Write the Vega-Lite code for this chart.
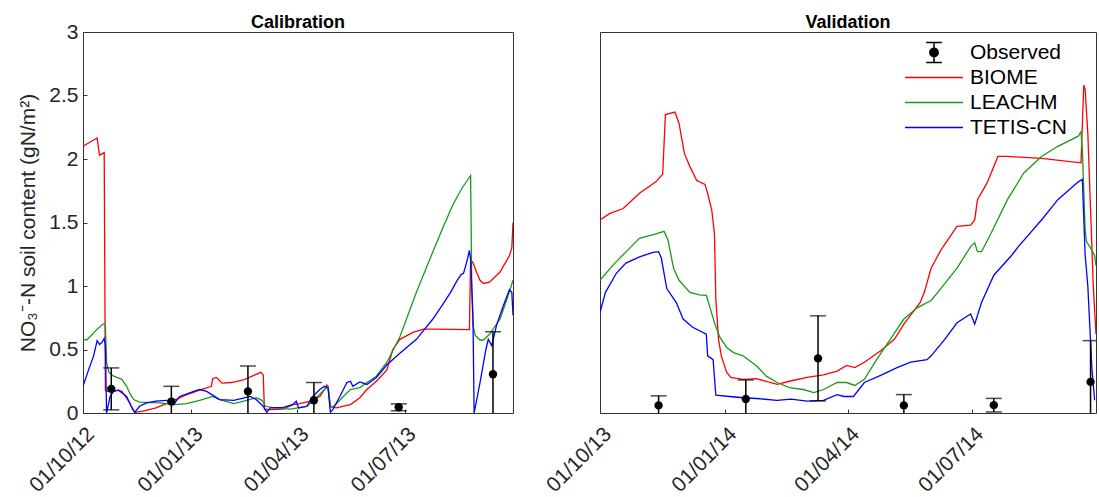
{
  "$schema": "https://vega.github.io/schema/vega-lite/v6.json",
  "background": "white",
  "padding": {"left": 17, "top": 13, "right": 0, "bottom": 0},
  "config": {
    "font": "Liberation Sans",
    "view": {"stroke": "#333333", "strokeWidth": 1},
    "axis": {"grid": false, "domain": false, "labelFont": "Liberation Sans", "labelFontSize": 21, "labelColor": "#262626", "tickColor": "#333333", "tickSize": -4, "titleFont": "Liberation Sans", "titleFontSize": 21, "titleFontWeight": "normal", "titleColor": "#262626"},
    "title": {"font": "Liberation Sans", "fontSize": 18, "fontWeight": "bold", "color": "#000000", "baseline": "alphabetic", "anchor": "middle", "frame": "group"}
  },
  "datasets": {
    "calLines": [
      {"series": "BIOME", "date": "2012-10-01", "value": 2.10},
      {"series": "BIOME", "date": "2012-10-13", "value": 2.165},
      {"series": "BIOME", "date": "2012-10-15", "value": 2.03},
      {"series": "BIOME", "date": "2012-10-19", "value": 2.05},
      {"series": "BIOME", "date": "2012-10-20", "value": 0.18},
      {"series": "BIOME", "date": "2012-10-21", "value": 0.17},
      {"series": "BIOME", "date": "2012-10-26", "value": 0.17},
      {"series": "BIOME", "date": "2012-10-31", "value": 0.18},
      {"series": "BIOME", "date": "2012-11-03", "value": 0.17},
      {"series": "BIOME", "date": "2012-11-06", "value": 0.13},
      {"series": "BIOME", "date": "2012-11-09", "value": 0.09},
      {"series": "BIOME", "date": "2012-11-12", "value": 0.03},
      {"series": "BIOME", "date": "2012-11-14", "value": 0.005},
      {"series": "BIOME", "date": "2012-11-20", "value": 0.013},
      {"series": "BIOME", "date": "2012-12-02", "value": 0.04},
      {"series": "BIOME", "date": "2012-12-15", "value": 0.09},
      {"series": "BIOME", "date": "2012-12-27", "value": 0.14},
      {"series": "BIOME", "date": "2013-01-08", "value": 0.18},
      {"series": "BIOME", "date": "2013-01-18", "value": 0.21},
      {"series": "BIOME", "date": "2013-01-19", "value": 0.27},
      {"series": "BIOME", "date": "2013-01-22", "value": 0.28},
      {"series": "BIOME", "date": "2013-01-24", "value": 0.265},
      {"series": "BIOME", "date": "2013-01-27", "value": 0.235},
      {"series": "BIOME", "date": "2013-02-04", "value": 0.24},
      {"series": "BIOME", "date": "2013-02-14", "value": 0.26},
      {"series": "BIOME", "date": "2013-02-24", "value": 0.30},
      {"series": "BIOME", "date": "2013-03-01", "value": 0.32},
      {"series": "BIOME", "date": "2013-03-03", "value": 0.30},
      {"series": "BIOME", "date": "2013-03-04", "value": 0.03},
      {"series": "BIOME", "date": "2013-03-09", "value": 0.026},
      {"series": "BIOME", "date": "2013-03-20", "value": 0.03},
      {"series": "BIOME", "date": "2013-03-28", "value": 0.066},
      {"series": "BIOME", "date": "2013-04-03", "value": 0.074},
      {"series": "BIOME", "date": "2013-04-12", "value": 0.093},
      {"series": "BIOME", "date": "2013-04-20", "value": 0.13},
      {"series": "BIOME", "date": "2013-04-24", "value": 0.185},
      {"series": "BIOME", "date": "2013-04-26", "value": 0.22},
      {"series": "BIOME", "date": "2013-04-27", "value": 0.20},
      {"series": "BIOME", "date": "2013-04-29", "value": 0.05},
      {"series": "BIOME", "date": "2013-05-04", "value": 0.04},
      {"series": "BIOME", "date": "2013-05-16", "value": 0.066},
      {"series": "BIOME", "date": "2013-05-24", "value": 0.12},
      {"series": "BIOME", "date": "2013-05-30", "value": 0.185},
      {"series": "BIOME", "date": "2013-06-07", "value": 0.25},
      {"series": "BIOME", "date": "2013-06-16", "value": 0.34},
      {"series": "BIOME", "date": "2013-06-21", "value": 0.50},
      {"series": "BIOME", "date": "2013-06-27", "value": 0.58},
      {"series": "BIOME", "date": "2013-07-08", "value": 0.635},
      {"series": "BIOME", "date": "2013-07-17", "value": 0.66},
      {"series": "BIOME", "date": "2013-07-25", "value": 0.66},
      {"series": "BIOME", "date": "2013-08-25", "value": 0.656},
      {"series": "BIOME", "date": "2013-08-26", "value": 1.20},
      {"series": "BIOME", "date": "2013-08-28", "value": 1.185},
      {"series": "BIOME", "date": "2013-08-31", "value": 1.11},
      {"series": "BIOME", "date": "2013-09-03", "value": 1.045},
      {"series": "BIOME", "date": "2013-09-06", "value": 1.02},
      {"series": "BIOME", "date": "2013-09-11", "value": 1.03},
      {"series": "BIOME", "date": "2013-09-20", "value": 1.11},
      {"series": "BIOME", "date": "2013-09-28", "value": 1.24},
      {"series": "BIOME", "date": "2013-09-30", "value": 1.30},
      {"series": "BIOME", "date": "2013-10-01", "value": 1.50},
      {"series": "LEACHM", "date": "2012-10-01", "value": 0.58},
      {"series": "LEACHM", "date": "2012-10-04", "value": 0.575},
      {"series": "LEACHM", "date": "2012-10-08", "value": 0.61},
      {"series": "LEACHM", "date": "2012-10-13", "value": 0.66},
      {"series": "LEACHM", "date": "2012-10-18", "value": 0.70},
      {"series": "LEACHM", "date": "2012-10-19", "value": 0.70},
      {"series": "LEACHM", "date": "2012-10-20", "value": 0.69},
      {"series": "LEACHM", "date": "2012-10-21", "value": 0.40},
      {"series": "LEACHM", "date": "2012-10-23", "value": 0.32},
      {"series": "LEACHM", "date": "2012-10-27", "value": 0.29},
      {"series": "LEACHM", "date": "2012-11-03", "value": 0.265},
      {"series": "LEACHM", "date": "2012-11-07", "value": 0.21},
      {"series": "LEACHM", "date": "2012-11-10", "value": 0.15},
      {"series": "LEACHM", "date": "2012-11-13", "value": 0.106},
      {"series": "LEACHM", "date": "2012-11-18", "value": 0.085},
      {"series": "LEACHM", "date": "2012-12-05", "value": 0.08},
      {"series": "LEACHM", "date": "2012-12-17", "value": 0.066},
      {"series": "LEACHM", "date": "2012-12-28", "value": 0.074},
      {"series": "LEACHM", "date": "2013-01-08", "value": 0.10},
      {"series": "LEACHM", "date": "2013-01-19", "value": 0.13},
      {"series": "LEACHM", "date": "2013-01-25", "value": 0.106},
      {"series": "LEACHM", "date": "2013-02-06", "value": 0.074},
      {"series": "LEACHM", "date": "2013-02-17", "value": 0.10},
      {"series": "LEACHM", "date": "2013-02-25", "value": 0.12},
      {"series": "LEACHM", "date": "2013-03-02", "value": 0.10},
      {"series": "LEACHM", "date": "2013-03-05", "value": 0.053},
      {"series": "LEACHM", "date": "2013-03-12", "value": 0.04},
      {"series": "LEACHM", "date": "2013-03-26", "value": 0.03},
      {"series": "LEACHM", "date": "2013-04-09", "value": 0.053},
      {"series": "LEACHM", "date": "2013-04-17", "value": 0.12},
      {"series": "LEACHM", "date": "2013-04-24", "value": 0.185},
      {"series": "LEACHM", "date": "2013-04-27", "value": 0.21},
      {"series": "LEACHM", "date": "2013-04-29", "value": 0.05},
      {"series": "LEACHM", "date": "2013-05-02", "value": 0.053},
      {"series": "LEACHM", "date": "2013-05-10", "value": 0.13},
      {"series": "LEACHM", "date": "2013-05-16", "value": 0.185},
      {"series": "LEACHM", "date": "2013-05-24", "value": 0.20},
      {"series": "LEACHM", "date": "2013-05-30", "value": 0.24},
      {"series": "LEACHM", "date": "2013-06-07", "value": 0.29},
      {"series": "LEACHM", "date": "2013-06-16", "value": 0.40},
      {"series": "LEACHM", "date": "2013-06-27", "value": 0.60},
      {"series": "LEACHM", "date": "2013-07-11", "value": 0.95},
      {"series": "LEACHM", "date": "2013-07-25", "value": 1.27},
      {"series": "LEACHM", "date": "2013-08-03", "value": 1.47},
      {"series": "LEACHM", "date": "2013-08-11", "value": 1.64},
      {"series": "LEACHM", "date": "2013-08-18", "value": 1.76},
      {"series": "LEACHM", "date": "2013-08-26", "value": 1.87},
      {"series": "LEACHM", "date": "2013-08-27", "value": 1.00},
      {"series": "LEACHM", "date": "2013-08-28", "value": 0.69},
      {"series": "LEACHM", "date": "2013-08-30", "value": 0.61},
      {"series": "LEACHM", "date": "2013-09-03", "value": 0.575},
      {"series": "LEACHM", "date": "2013-09-06", "value": 0.575},
      {"series": "LEACHM", "date": "2013-09-11", "value": 0.62},
      {"series": "LEACHM", "date": "2013-09-20", "value": 0.74},
      {"series": "LEACHM", "date": "2013-09-26", "value": 0.90},
      {"series": "LEACHM", "date": "2013-10-01", "value": 1.045},
      {"series": "TETIS-CN", "date": "2012-10-01", "value": 0.21},
      {"series": "TETIS-CN", "date": "2012-10-05", "value": 0.32},
      {"series": "TETIS-CN", "date": "2012-10-10", "value": 0.45},
      {"series": "TETIS-CN", "date": "2012-10-13", "value": 0.57},
      {"series": "TETIS-CN", "date": "2012-10-15", "value": 0.54},
      {"series": "TETIS-CN", "date": "2012-10-17", "value": 0.555},
      {"series": "TETIS-CN", "date": "2012-10-19", "value": 0.587},
      {"series": "TETIS-CN", "date": "2012-10-20", "value": 0.53},
      {"series": "TETIS-CN", "date": "2012-10-21", "value": 0.0},
      {"series": "TETIS-CN", "date": "2012-10-24", "value": 0.13},
      {"series": "TETIS-CN", "date": "2012-10-27", "value": 0.17},
      {"series": "TETIS-CN", "date": "2012-10-31", "value": 0.18},
      {"series": "TETIS-CN", "date": "2012-11-03", "value": 0.16},
      {"series": "TETIS-CN", "date": "2012-11-07", "value": 0.13},
      {"series": "TETIS-CN", "date": "2012-11-11", "value": 0.053},
      {"series": "TETIS-CN", "date": "2012-11-14", "value": 0.005},
      {"series": "TETIS-CN", "date": "2012-11-18", "value": 0.053},
      {"series": "TETIS-CN", "date": "2012-11-24", "value": 0.08},
      {"series": "TETIS-CN", "date": "2012-12-02", "value": 0.093},
      {"series": "TETIS-CN", "date": "2012-12-11", "value": 0.10},
      {"series": "TETIS-CN", "date": "2012-12-17", "value": 0.066},
      {"series": "TETIS-CN", "date": "2012-12-22", "value": 0.13},
      {"series": "TETIS-CN", "date": "2013-01-03", "value": 0.17},
      {"series": "TETIS-CN", "date": "2013-01-08", "value": 0.185},
      {"series": "TETIS-CN", "date": "2013-01-14", "value": 0.17},
      {"series": "TETIS-CN", "date": "2013-01-25", "value": 0.106},
      {"series": "TETIS-CN", "date": "2013-02-06", "value": 0.10},
      {"series": "TETIS-CN", "date": "2013-02-20", "value": 0.13},
      {"series": "TETIS-CN", "date": "2013-02-25", "value": 0.106},
      {"series": "TETIS-CN", "date": "2013-03-03", "value": 0.053},
      {"series": "TETIS-CN", "date": "2013-03-06", "value": 0.005},
      {"series": "TETIS-CN", "date": "2013-03-09", "value": 0.04},
      {"series": "TETIS-CN", "date": "2013-03-20", "value": 0.045},
      {"series": "TETIS-CN", "date": "2013-03-28", "value": 0.066},
      {"series": "TETIS-CN", "date": "2013-03-31", "value": 0.093},
      {"series": "TETIS-CN", "date": "2013-04-02", "value": 0.04},
      {"series": "TETIS-CN", "date": "2013-04-09", "value": 0.053},
      {"series": "TETIS-CN", "date": "2013-04-14", "value": 0.13},
      {"series": "TETIS-CN", "date": "2013-04-20", "value": 0.185},
      {"series": "TETIS-CN", "date": "2013-04-24", "value": 0.21},
      {"series": "TETIS-CN", "date": "2013-04-27", "value": 0.20},
      {"series": "TETIS-CN", "date": "2013-04-29", "value": 0.005},
      {"series": "TETIS-CN", "date": "2013-05-01", "value": 0.026},
      {"series": "TETIS-CN", "date": "2013-05-07", "value": 0.13},
      {"series": "TETIS-CN", "date": "2013-05-13", "value": 0.24},
      {"series": "TETIS-CN", "date": "2013-05-16", "value": 0.25},
      {"series": "TETIS-CN", "date": "2013-05-18", "value": 0.21},
      {"series": "TETIS-CN", "date": "2013-05-24", "value": 0.245},
      {"series": "TETIS-CN", "date": "2013-05-30", "value": 0.225},
      {"series": "TETIS-CN", "date": "2013-06-07", "value": 0.28},
      {"series": "TETIS-CN", "date": "2013-06-16", "value": 0.38},
      {"series": "TETIS-CN", "date": "2013-06-27", "value": 0.47},
      {"series": "TETIS-CN", "date": "2013-07-11", "value": 0.58},
      {"series": "TETIS-CN", "date": "2013-07-18", "value": 0.66},
      {"series": "TETIS-CN", "date": "2013-07-25", "value": 0.74},
      {"series": "TETIS-CN", "date": "2013-08-02", "value": 0.85},
      {"series": "TETIS-CN", "date": "2013-08-09", "value": 0.95},
      {"series": "TETIS-CN", "date": "2013-08-15", "value": 1.05},
      {"series": "TETIS-CN", "date": "2013-08-18", "value": 1.09},
      {"series": "TETIS-CN", "date": "2013-08-20", "value": 1.10},
      {"series": "TETIS-CN", "date": "2013-08-23", "value": 1.20},
      {"series": "TETIS-CN", "date": "2013-08-25", "value": 1.28},
      {"series": "TETIS-CN", "date": "2013-08-26", "value": 1.21},
      {"series": "TETIS-CN", "date": "2013-08-28", "value": 0.77},
      {"series": "TETIS-CN", "date": "2013-08-29", "value": 0.0},
      {"series": "TETIS-CN", "date": "2013-09-03", "value": 0.24},
      {"series": "TETIS-CN", "date": "2013-09-08", "value": 0.50},
      {"series": "TETIS-CN", "date": "2013-09-10", "value": 0.58},
      {"series": "TETIS-CN", "date": "2013-09-13", "value": 0.53},
      {"series": "TETIS-CN", "date": "2013-09-17", "value": 0.69},
      {"series": "TETIS-CN", "date": "2013-09-23", "value": 0.85},
      {"series": "TETIS-CN", "date": "2013-09-28", "value": 0.97},
      {"series": "TETIS-CN", "date": "2013-09-30", "value": 0.95},
      {"series": "TETIS-CN", "date": "2013-10-01", "value": 0.77}
    ],
    "valLines": [
      {"series": "BIOME", "date": "2013-10-01", "value": 1.52},
      {"series": "BIOME", "date": "2013-10-08", "value": 1.57},
      {"series": "BIOME", "date": "2013-10-18", "value": 1.61},
      {"series": "BIOME", "date": "2013-10-30", "value": 1.73},
      {"series": "BIOME", "date": "2013-11-11", "value": 1.82},
      {"series": "BIOME", "date": "2013-11-16", "value": 1.88},
      {"series": "BIOME", "date": "2013-11-18", "value": 2.35},
      {"series": "BIOME", "date": "2013-11-25", "value": 2.37},
      {"series": "BIOME", "date": "2013-11-28", "value": 2.28},
      {"series": "BIOME", "date": "2013-12-02", "value": 2.04},
      {"series": "BIOME", "date": "2013-12-06", "value": 1.94},
      {"series": "BIOME", "date": "2013-12-11", "value": 1.83},
      {"series": "BIOME", "date": "2013-12-17", "value": 1.80},
      {"series": "BIOME", "date": "2013-12-19", "value": 1.73},
      {"series": "BIOME", "date": "2013-12-22", "value": 1.60},
      {"series": "BIOME", "date": "2013-12-24", "value": 1.41},
      {"series": "BIOME", "date": "2013-12-25", "value": 0.90},
      {"series": "BIOME", "date": "2013-12-27", "value": 0.58},
      {"series": "BIOME", "date": "2013-12-29", "value": 0.45},
      {"series": "BIOME", "date": "2014-01-02", "value": 0.32},
      {"series": "BIOME", "date": "2014-01-05", "value": 0.28},
      {"series": "BIOME", "date": "2014-01-14", "value": 0.265},
      {"series": "BIOME", "date": "2014-01-24", "value": 0.27},
      {"series": "BIOME", "date": "2014-02-08", "value": 0.225},
      {"series": "BIOME", "date": "2014-02-17", "value": 0.25},
      {"series": "BIOME", "date": "2014-03-02", "value": 0.28},
      {"series": "BIOME", "date": "2014-03-14", "value": 0.30},
      {"series": "BIOME", "date": "2014-03-24", "value": 0.33},
      {"series": "BIOME", "date": "2014-03-31", "value": 0.375},
      {"series": "BIOME", "date": "2014-04-06", "value": 0.357},
      {"series": "BIOME", "date": "2014-04-13", "value": 0.40},
      {"series": "BIOME", "date": "2014-04-25", "value": 0.49},
      {"series": "BIOME", "date": "2014-05-05", "value": 0.58},
      {"series": "BIOME", "date": "2014-05-12", "value": 0.70},
      {"series": "BIOME", "date": "2014-05-17", "value": 0.77},
      {"series": "BIOME", "date": "2014-05-24", "value": 0.87},
      {"series": "BIOME", "date": "2014-05-27", "value": 0.95},
      {"series": "BIOME", "date": "2014-06-01", "value": 1.14},
      {"series": "BIOME", "date": "2014-06-08", "value": 1.28},
      {"series": "BIOME", "date": "2014-06-20", "value": 1.47},
      {"series": "BIOME", "date": "2014-06-30", "value": 1.48},
      {"series": "BIOME", "date": "2014-07-03", "value": 1.52},
      {"series": "BIOME", "date": "2014-07-05", "value": 1.68},
      {"series": "BIOME", "date": "2014-07-12", "value": 1.81},
      {"series": "BIOME", "date": "2014-07-20", "value": 2.02},
      {"series": "BIOME", "date": "2014-07-27", "value": 2.02},
      {"series": "BIOME", "date": "2014-08-21", "value": 2.005},
      {"series": "BIOME", "date": "2014-09-19", "value": 1.97},
      {"series": "BIOME", "date": "2014-09-21", "value": 2.58},
      {"series": "BIOME", "date": "2014-09-22", "value": 2.55},
      {"series": "BIOME", "date": "2014-09-24", "value": 2.20},
      {"series": "BIOME", "date": "2014-09-26", "value": 1.60},
      {"series": "BIOME", "date": "2014-09-28", "value": 1.00},
      {"series": "BIOME", "date": "2014-09-30", "value": 0.62},
      {"series": "LEACHM", "date": "2013-10-01", "value": 1.045},
      {"series": "LEACHM", "date": "2013-10-11", "value": 1.17},
      {"series": "LEACHM", "date": "2013-10-23", "value": 1.30},
      {"series": "LEACHM", "date": "2013-10-30", "value": 1.375},
      {"series": "LEACHM", "date": "2013-11-11", "value": 1.41},
      {"series": "LEACHM", "date": "2013-11-17", "value": 1.43},
      {"series": "LEACHM", "date": "2013-11-20", "value": 1.36},
      {"series": "LEACHM", "date": "2013-11-21", "value": 1.30},
      {"series": "LEACHM", "date": "2013-11-24", "value": 1.14},
      {"series": "LEACHM", "date": "2013-11-28", "value": 1.045},
      {"series": "LEACHM", "date": "2013-12-06", "value": 0.95},
      {"series": "LEACHM", "date": "2013-12-13", "value": 0.93},
      {"series": "LEACHM", "date": "2013-12-18", "value": 0.926},
      {"series": "LEACHM", "date": "2013-12-21", "value": 0.82},
      {"series": "LEACHM", "date": "2013-12-24", "value": 0.71},
      {"series": "LEACHM", "date": "2013-12-28", "value": 0.595},
      {"series": "LEACHM", "date": "2014-01-02", "value": 0.516},
      {"series": "LEACHM", "date": "2014-01-07", "value": 0.476},
      {"series": "LEACHM", "date": "2014-01-14", "value": 0.45},
      {"series": "LEACHM", "date": "2014-01-24", "value": 0.37},
      {"series": "LEACHM", "date": "2014-01-31", "value": 0.29},
      {"series": "LEACHM", "date": "2014-02-08", "value": 0.24},
      {"series": "LEACHM", "date": "2014-02-17", "value": 0.20},
      {"series": "LEACHM", "date": "2014-02-27", "value": 0.185},
      {"series": "LEACHM", "date": "2014-03-07", "value": 0.16},
      {"series": "LEACHM", "date": "2014-03-14", "value": 0.185},
      {"series": "LEACHM", "date": "2014-03-24", "value": 0.24},
      {"series": "LEACHM", "date": "2014-03-31", "value": 0.24},
      {"series": "LEACHM", "date": "2014-04-06", "value": 0.217},
      {"series": "LEACHM", "date": "2014-04-13", "value": 0.265},
      {"series": "LEACHM", "date": "2014-04-22", "value": 0.42},
      {"series": "LEACHM", "date": "2014-05-02", "value": 0.58},
      {"series": "LEACHM", "date": "2014-05-12", "value": 0.74},
      {"series": "LEACHM", "date": "2014-05-22", "value": 0.83},
      {"series": "LEACHM", "date": "2014-06-01", "value": 0.886},
      {"series": "LEACHM", "date": "2014-06-10", "value": 1.005},
      {"series": "LEACHM", "date": "2014-06-20", "value": 1.14},
      {"series": "LEACHM", "date": "2014-06-30", "value": 1.31},
      {"series": "LEACHM", "date": "2014-07-03", "value": 1.34},
      {"series": "LEACHM", "date": "2014-07-05", "value": 1.27},
      {"series": "LEACHM", "date": "2014-07-08", "value": 1.27},
      {"series": "LEACHM", "date": "2014-07-15", "value": 1.415},
      {"series": "LEACHM", "date": "2014-07-27", "value": 1.68},
      {"series": "LEACHM", "date": "2014-08-08", "value": 1.89},
      {"series": "LEACHM", "date": "2014-08-21", "value": 2.02},
      {"series": "LEACHM", "date": "2014-09-02", "value": 2.10},
      {"series": "LEACHM", "date": "2014-09-17", "value": 2.18},
      {"series": "LEACHM", "date": "2014-09-19", "value": 2.215},
      {"series": "LEACHM", "date": "2014-09-20", "value": 2.07},
      {"series": "LEACHM", "date": "2014-09-22", "value": 1.45},
      {"series": "LEACHM", "date": "2014-09-23", "value": 1.35},
      {"series": "LEACHM", "date": "2014-09-26", "value": 1.30},
      {"series": "LEACHM", "date": "2014-09-29", "value": 1.24},
      {"series": "LEACHM", "date": "2014-09-30", "value": 1.16},
      {"series": "TETIS-CN", "date": "2013-10-01", "value": 0.79},
      {"series": "TETIS-CN", "date": "2013-10-05", "value": 0.95},
      {"series": "TETIS-CN", "date": "2013-10-13", "value": 1.10},
      {"series": "TETIS-CN", "date": "2013-10-20", "value": 1.18},
      {"series": "TETIS-CN", "date": "2013-10-30", "value": 1.23},
      {"series": "TETIS-CN", "date": "2013-11-09", "value": 1.265},
      {"series": "TETIS-CN", "date": "2013-11-13", "value": 1.27},
      {"series": "TETIS-CN", "date": "2013-11-15", "value": 1.22},
      {"series": "TETIS-CN", "date": "2013-11-19", "value": 0.98},
      {"series": "TETIS-CN", "date": "2013-11-26", "value": 0.87},
      {"series": "TETIS-CN", "date": "2013-12-01", "value": 0.74},
      {"series": "TETIS-CN", "date": "2013-12-08", "value": 0.675},
      {"series": "TETIS-CN", "date": "2013-12-18", "value": 0.62},
      {"series": "TETIS-CN", "date": "2013-12-19", "value": 0.45},
      {"series": "TETIS-CN", "date": "2013-12-23", "value": 0.42},
      {"series": "TETIS-CN", "date": "2013-12-25", "value": 0.14},
      {"series": "TETIS-CN", "date": "2014-01-04", "value": 0.13},
      {"series": "TETIS-CN", "date": "2014-01-14", "value": 0.12},
      {"series": "TETIS-CN", "date": "2014-01-24", "value": 0.114},
      {"series": "TETIS-CN", "date": "2014-02-08", "value": 0.10},
      {"series": "TETIS-CN", "date": "2014-02-18", "value": 0.11},
      {"series": "TETIS-CN", "date": "2014-03-02", "value": 0.093},
      {"series": "TETIS-CN", "date": "2014-03-14", "value": 0.10},
      {"series": "TETIS-CN", "date": "2014-03-24", "value": 0.145},
      {"series": "TETIS-CN", "date": "2014-03-29", "value": 0.13},
      {"series": "TETIS-CN", "date": "2014-04-05", "value": 0.13},
      {"series": "TETIS-CN", "date": "2014-04-13", "value": 0.24},
      {"series": "TETIS-CN", "date": "2014-04-25", "value": 0.296},
      {"series": "TETIS-CN", "date": "2014-05-07", "value": 0.357},
      {"series": "TETIS-CN", "date": "2014-05-17", "value": 0.40},
      {"series": "TETIS-CN", "date": "2014-05-29", "value": 0.42},
      {"series": "TETIS-CN", "date": "2014-06-01", "value": 0.45},
      {"series": "TETIS-CN", "date": "2014-06-11", "value": 0.58},
      {"series": "TETIS-CN", "date": "2014-06-20", "value": 0.71},
      {"series": "TETIS-CN", "date": "2014-06-30", "value": 0.78},
      {"series": "TETIS-CN", "date": "2014-07-03", "value": 0.70},
      {"series": "TETIS-CN", "date": "2014-07-08", "value": 0.87},
      {"series": "TETIS-CN", "date": "2014-07-17", "value": 1.085},
      {"series": "TETIS-CN", "date": "2014-07-30", "value": 1.24},
      {"series": "TETIS-CN", "date": "2014-08-04", "value": 1.31},
      {"series": "TETIS-CN", "date": "2014-08-21", "value": 1.52},
      {"series": "TETIS-CN", "date": "2014-09-02", "value": 1.68},
      {"series": "TETIS-CN", "date": "2014-09-17", "value": 1.82},
      {"series": "TETIS-CN", "date": "2014-09-20", "value": 1.84},
      {"series": "TETIS-CN", "date": "2014-09-22", "value": 1.25},
      {"series": "TETIS-CN", "date": "2014-09-24", "value": 1.00},
      {"series": "TETIS-CN", "date": "2014-09-27", "value": 0.35},
      {"series": "TETIS-CN", "date": "2014-09-29", "value": 0.10}
    ]
  },
  "resolve": {"scale": {"x": "independent", "color": "independent", "opacity": "independent"}, "legend": {"color": "independent", "opacity": "independent"}},
  "spacing": 87,
  "bounds": "flush",
  "hconcat": [
    {
      "width": 430,
      "height": 381,
      "title": {"text": "Calibration", "offset": -11},
      "layer": [
        {
          "data": {"name": "calLines", "format": {"parse": {"date": "date:'%Y-%m-%d'"}}},
          "mark": {"type": "line", "strokeWidth": 1.3, "clip": true},
          "encoding": {
            "x": {"field": "date", "type": "temporal",
              "scale": {"domain": [{"year": 2012, "month": 10, "date": 1}, {"year": 2013, "month": 10, "date": 1}]},
              "axis": {"title": null, "values": [{"year": 2012, "month": 10, "date": 1}, {"year": 2013, "month": 1, "date": 1}, {"year": 2013, "month": 4, "date": 1}, {"year": 2013, "month": 7, "date": 1}], "format": "%d/%m/%y", "labelAngle": -45, "labelAlign": "right", "labelBaseline": "top", "labelPadding": 14, "labelOffset": 0}},
            "y": {"field": "value", "type": "quantitative",
              "scale": {"domain": [0, 3], "nice": false},
              "axis": {"title": "NO₃⁻-N soil content (gN/m²)", "values": [0, 0.5, 1, 1.5, 2, 2.5, 3], "format": "~g", "labelPadding": 9, "titlePadding": 10}},
            "color": {"field": "series", "type": "nominal",
              "scale": {"domain": ["BIOME", "LEACHM", "TETIS-CN"], "range": ["#ff0000", "#1a9a1a", "#0000ff"]},
              "legend": null}
          }
        },
        {
          "data": {
            "values": [
              {"series": "Observed", "date": "2012-10-25", "value": 0.19, "lo": 0.025, "hi": 0.355},
              {"series": "Observed", "date": "2012-12-15", "value": 0.09, "lo": -0.03, "hi": 0.21},
              {"series": "Observed", "date": "2013-02-18", "value": 0.17, "lo": -0.03, "hi": 0.37},
              {"series": "Observed", "date": "2013-04-15", "value": 0.10, "lo": -0.04, "hi": 0.24},
              {"series": "Observed", "date": "2013-06-26", "value": 0.045, "lo": 0.018, "hi": 0.072},
              {"series": "Observed", "date": "2013-09-14", "value": 0.305, "lo": -0.03, "hi": 0.64}
            ],
            "format": {"parse": {"date": "date:'%Y-%m-%d'"}}
          },
          "layer": [
            {
              "mark": {"type": "rule", "color": "#000000", "strokeWidth": 1.5, "clip": true},
              "encoding": {
                "x": {"field": "date", "type": "temporal"},
                "y": {"field": "lo", "type": "quantitative"},
                "y2": {"field": "hi"}
              }
            },
            {
              "mark": {"type": "tick", "orient": "horizontal", "color": "#000000", "size": 16, "thickness": 1.5, "clip": true},
              "encoding": {
                "x": {"field": "date", "type": "temporal"},
                "y": {"field": "hi", "type": "quantitative"}
              }
            },
            {
              "mark": {"type": "tick", "orient": "horizontal", "color": "#000000", "size": 16, "thickness": 1.5, "clip": true},
              "encoding": {
                "x": {"field": "date", "type": "temporal"},
                "y": {"field": "lo", "type": "quantitative"}
              }
            },
            {
              "mark": {"type": "point", "filled": true, "color": "#000000", "opacity": 1, "size": 70, "clip": true},
              "encoding": {
                "x": {"field": "date", "type": "temporal"},
                "y": {"field": "value", "type": "quantitative"}
              }
            }
          ]
        }
      ]
    },
    {
      "width": 496,
      "height": 381,
      "title": {"text": "Validation", "offset": 0},
      "layer": [
        {
          "data": {"name": "valLines", "format": {"parse": {"date": "date:'%Y-%m-%d'"}}},
          "mark": {"type": "line", "strokeWidth": 1.3, "clip": true},
          "encoding": {
            "x": {"field": "date", "type": "temporal",
              "scale": {"domain": [{"year": 2013, "month": 10, "date": 1}, {"year": 2014, "month": 9, "date": 30}]},
              "axis": {"title": null, "values": [{"year": 2013, "month": 10, "date": 1}, {"year": 2014, "month": 1, "date": 1}, {"year": 2014, "month": 4, "date": 1}, {"year": 2014, "month": 7, "date": 1}], "format": "%d/%m/%y", "labelAngle": -45, "labelAlign": "right", "labelBaseline": "top", "labelPadding": 14, "labelOffset": 0}},
            "y": {"field": "value", "type": "quantitative", "scale": {"domain": [0, 3], "nice": false}, "axis": null},
            "color": {"field": "series", "type": "nominal",
              "scale": {"domain": ["BIOME", "LEACHM", "TETIS-CN"], "range": ["#ff0000", "#1a9a1a", "#0000ff"]},
              "legend": {
                "title": null, "orient": "none", "legendX": 304, "legendY": 33,
                "symbolType": "stroke", "symbolSize": 3364, "symbolStrokeWidth": 1.5,
                "labelFont": "Liberation Sans", "labelFontSize": 21, "labelColor": "#000000", "labelOffset": 6,
                "clipHeight": 25, "rowPadding": 0, "padding": 0
              }}
          }
        },
        {
          "data": {
            "values": [
              {"series": "Observed", "date": "2013-11-13", "value": 0.06, "lo": -0.015, "hi": 0.135},
              {"series": "Observed", "date": "2014-01-16", "value": 0.11, "lo": -0.04, "hi": 0.26},
              {"series": "Observed", "date": "2014-03-10", "value": 0.43, "lo": 0.095, "hi": 0.765},
              {"series": "Observed", "date": "2014-05-12", "value": 0.06, "lo": -0.025, "hi": 0.145},
              {"series": "Observed", "date": "2014-07-17", "value": 0.062, "lo": 0.008, "hi": 0.115},
              {"series": "Observed", "date": "2014-09-26", "value": 0.245, "lo": -0.08, "hi": 0.57}
            ],
            "format": {"parse": {"date": "date:'%Y-%m-%d'"}}
          },
          "layer": [
            {
              "mark": {"type": "rule", "color": "#000000", "strokeWidth": 1.5, "clip": true},
              "encoding": {
                "x": {"field": "date", "type": "temporal"},
                "y": {"field": "lo", "type": "quantitative", "axis": null},
                "y2": {"field": "hi"},
                "opacity": {"field": "series", "type": "nominal",
                  "scale": {"domain": ["Observed"], "range": [1]},
                  "legend": {
                    "title": null, "orient": "none", "legendX": 304, "legendY": 8,
                    "symbolType": "M0,-0.345L0,0.345M-0.27,-0.345L0.27,-0.345M-0.27,0.345L0.27,0.345M-0.145,0A0.145,0.145,0,1,0,0.145,0A0.145,0.145,0,1,0,-0.145,0M-0.11,0A0.11,0.11,0,1,0,0.11,0A0.11,0.11,0,1,0,-0.11,0M-0.076,0A0.076,0.076,0,1,0,0.076,0A0.076,0.076,0,1,0,-0.076,0M-0.042,0A0.042,0.042,0,1,0,0.042,0A0.042,0.042,0,1,0,-0.042,0M-0.012,0A0.012,0.012,0,1,0,0.012,0A0.012,0.012,0,1,0,-0.012,0",
                    "symbolSize": 3364, "symbolStrokeWidth": 1.5, "symbolStrokeColor": "#000000", "symbolOpacity": 1,
                    "labelFont": "Liberation Sans", "labelFontSize": 21, "labelColor": "#000000", "labelOffset": 6,
                    "clipHeight": 25, "rowPadding": 0, "padding": 0
                  }}
              }
            },
            {
              "mark": {"type": "tick", "orient": "horizontal", "color": "#000000", "size": 16, "thickness": 1.5, "clip": true},
              "encoding": {
                "x": {"field": "date", "type": "temporal"},
                "y": {"field": "hi", "type": "quantitative", "axis": null}
              }
            },
            {
              "mark": {"type": "tick", "orient": "horizontal", "color": "#000000", "size": 16, "thickness": 1.5, "clip": true},
              "encoding": {
                "x": {"field": "date", "type": "temporal"},
                "y": {"field": "lo", "type": "quantitative", "axis": null}
              }
            },
            {
              "mark": {"type": "point", "filled": true, "color": "#000000", "opacity": 1, "size": 70, "clip": true},
              "encoding": {
                "x": {"field": "date", "type": "temporal"},
                "y": {"field": "value", "type": "quantitative", "axis": null}
              }
            }
          ]
        }
      ]
    }
  ]
}
